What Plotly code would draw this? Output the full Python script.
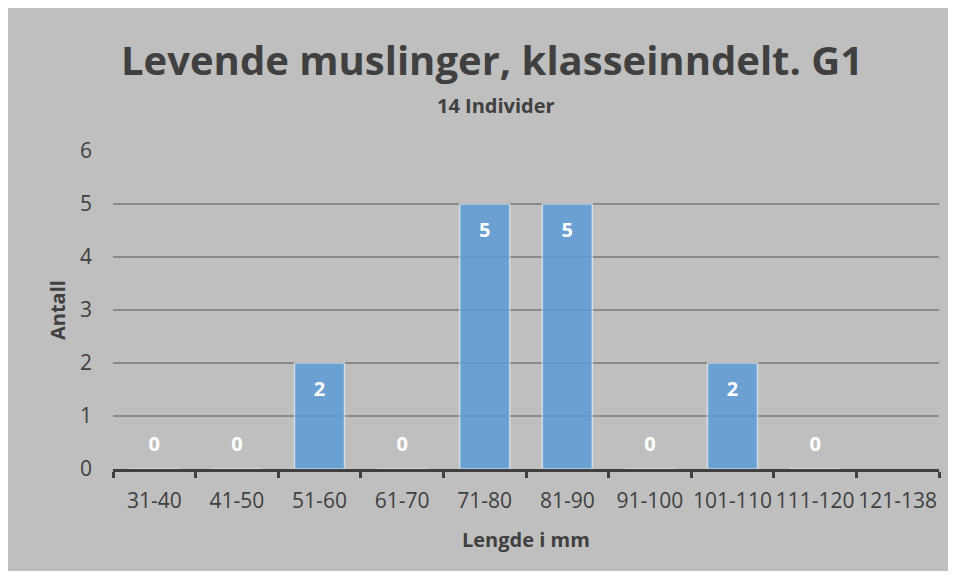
import plotly.graph_objects as go

categories = ["31-40", "41-50", "51-60", "61-70", "71-80", "81-90", "91-100", "101-110", "111-120", "121-138"]
values = [0, 0, 2, 0, 5, 5, 0, 2, 0, None]
title = "Levende muslinger, klasseinndelt. G1"
subtitle = "14 Individer"
x_title = "Lengde i mm"
y_title = "Antall"

OFF = 8  # page offset of the figure (default body margin)
W, H = 940, 563
# plot area in page pixels: x 113..939, y 151..469
L = 113 - OFF
R = W - (939 - OFF)
T = 151 - OFF
B = H - (469 - OFF)
pw, ph = W - L - R, H - T - B

def px(x):
    return (x - OFF - L) / pw

def py(y):
    return (H - B - (y - OFF)) / ph

GRAY = "#BFBFBF"
TXT = "#404040"

fig = go.Figure()
fig.add_trace(go.Bar(
    x=categories, y=values,
    marker=dict(color="rgba(91,155,213,0.85)", line=dict(color="rgba(255,255,255,0.55)", width=1.5)),
    width=0.605, hoverinfo="skip",
))

lab_x = [c for c, v in zip(categories, values) if v is not None]
lab_v = [v for v in values if v is not None]
lab_y = [v - 0.53 if v > 0 else 0.43 for v in lab_v]
fig.add_trace(go.Scatter(
    x=lab_x, y=lab_y, mode="text", text=[str(v) for v in lab_v],
    textfont=dict(family="Open Sans", size=20, color="white", weight="bold"),
    hoverinfo="skip", showlegend=False,
))

fig.update_layout(
    width=W, height=H,
    margin=dict(l=L, r=R, t=T, b=B, autoexpand=False),
    paper_bgcolor=GRAY, plot_bgcolor=GRAY,
    showlegend=False,
    font=dict(family="Open Sans", color=TXT),
    xaxis=dict(
        type="category", range=[-0.5, 9.5], automargin=False, tickangle=0,
        showline=True, linecolor=TXT, linewidth=3,
        ticks="outside", tickson="boundaries", ticklen=6, tickwidth=2.5, tickcolor=TXT,
        tickfont=dict(size=21, color=TXT), showgrid=False,
        ticklabelstandoff=11,
    ),
    yaxis=dict(
        range=[0, 6], dtick=1, tick0=0, automargin=False,
        showgrid=True, gridcolor="#8A8A8A", gridwidth=1.5,
        zeroline=False, showline=False, ticks="",
        tickfont=dict(size=21, color=TXT), ticklabelstandoff=20,
    ),
    annotations=[
        dict(text=title, x=px(492), y=py(59), xref="paper", yref="paper",
             showarrow=False, xanchor="center", yanchor="middle",
             font=dict(size=40, color=TXT, weight="bold")),
        dict(text=subtitle, x=px(496), y=py(105), xref="paper", yref="paper",
             showarrow=False, xanchor="center", yanchor="middle",
             font=dict(size=20, color=TXT, weight="bold")),
        dict(text=x_title, x=px(526), y=py(539), xref="paper", yref="paper",
             showarrow=False, xanchor="center", yanchor="middle",
             font=dict(size=20, color=TXT, weight="bold")),
        dict(text=y_title, x=px(57), y=py(310), xref="paper", yref="paper",
             showarrow=False, xanchor="center", yanchor="middle", textangle=-90,
             font=dict(size=20, color=TXT, weight="bold")),
    ],
)

fig.write_html("out.html")
